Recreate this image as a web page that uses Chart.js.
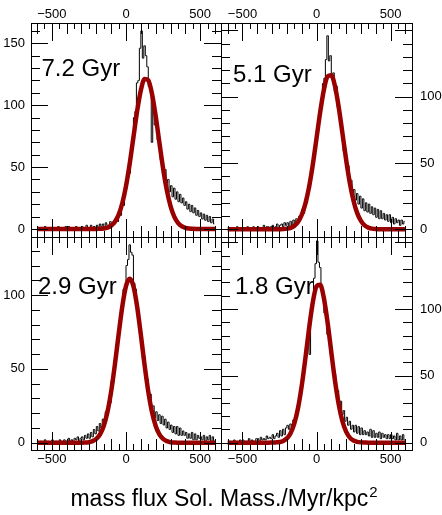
<!DOCTYPE html>
<html>
<head>
<meta charset="utf-8">
<script src="https://cdn.jsdelivr.net/npm/chart.js@4.4.1/dist/chart.umd.min.js"></script>
<style>
  html, body { margin: 0; padding: 0; background: #fff; }
  #wrap { position: relative; width: 442px; height: 515px; }
  #wrap canvas { position: absolute; left: 0; top: 0; }
</style>
</head>
<body>
<div id="wrap">
  <canvas id="p72" width="442" height="515"></canvas>
  <canvas id="p51" width="442" height="515"></canvas>
  <canvas id="p29" width="442" height="515"></canvas>
  <canvas id="p18" width="442" height="515"></canvas>
</div>
<script>
Chart.defaults.font.family = "'Liberation Sans', Arial, sans-serif";
Chart.defaults.color = '#000';

/* ── data ─────────────────────────────────────── */
const BIN_LO = -600, BIN_W = 10;   // 120 bins, -600 .. 600
const X_LABELS = [-500, 0, 500];
const Y_LABELS_TL = [0, 50, 100, 150];
const Y_LABELS = [0, 50, 100];
const XLABEL = 'mass flux Sol. Mass./Myr/kpc';
const XLABEL_SUP = '2';

const HIST_72 = [
  0,0,1,0,0,2,0,0,1,0,   0,1,0,0,2,0,1,0,0,2,
  0,2,1,0,1,0,2,1,0,1,   2,0,1,3,1,0,3,1,2,1,
  3,1,4,2,4,1,5,3,2,6,   2,5,4,9,6,13,11,20,19,31,
  33,47,45,66,68,90,95,118,120,146,   160,138,148,140,131,115,117,70,101,84,
  88,72,69,56,55,44,48,37,40,30,   35,26,33,24,30,22,28,21,25,19,
  22,16,20,14,19,13,17,11,15,10,   13,8,12,7,11,6,10,5,8,4,
];
const HIST_51 = [
  0,0,0,1,0,0,2,0,0,0,   1,0,0,2,0,1,0,2,1,0,
  2,0,1,1,3,0,2,2,1,2,   3,1,2,4,1,3,4,2,5,3,
  5,2,6,3,7,4,8,7,10,10,   15,12,22,20,33,31,45,44,60,60,
  74,79,93,96,110,114,128,146,127,131,   116,118,104,108,92,90,78,74,59,61,
  46,48,35,37,26,30,22,27,19,25,   16,23,14,20,13,19,12,17,11,16,
  9,15,8,14,8,12,7,11,6,11,   5,9,4,8,5,7,3,7,4,6,
];
const HIST_29 = [
  0,0,1,0,0,2,0,1,0,0,   2,0,1,1,0,2,1,0,2,1,
  1,3,1,2,0,3,2,4,1,3,   4,2,5,3,6,3,7,4,9,6,
  11,8,13,10,16,13,21,19,28,27,   42,41,55,59,72,74,88,91,104,105,
  120,124,134,129,127,108,104,91,88,74,   74,57,58,43,43,30,33,23,25,17,
  21,15,19,13,18,12,16,10,14,9,   12,7,11,6,11,5,10,5,8,5,
  7,3,6,3,7,2,6,2,5,3,   4,2,5,1,4,2,5,1,4,1,
];
const HIST_18 = [
  0,1,0,0,2,0,1,0,2,1,   2,0,1,1,3,0,2,1,1,3,
  3,1,4,2,3,2,5,3,4,3,   6,3,5,7,4,9,5,10,6,11,
  13,10,14,12,17,16,23,25,33,36,   49,51,66,68,82,66,99,106,123,134,
  151,135,131,114,111,97,95,81,81,67,   65,52,51,38,39,28,31,21,24,16,
  19,13,16,10,13,8,13,7,12,6,   11,6,9,6,8,5,10,4,9,4,
  7,4,8,3,7,4,6,3,6,3,   6,3,5,2,7,2,5,2,6,2,
];

// gaussian fits, sampled every 25
const FIT_X = [
  -600,-575,-550,-525,-500,-475,-450,-425,-400,-375,-350,-325,-300,-275,-250,-225,
  -200,-175,-150,-125,-100,-75,-50,-25,0,25,50,75,100,125,150,175,
  200,225,250,275,300,325,350,375,400,425,450,475,500,525,550,575,600,
];
const FIT_72 = [
  0,0,0,0,0,0,0,0,0,0,0,0,0,0,0,0,0,
  0.2,0.4,1.1,2.7,5.8,11.4,20.8,34.6,52.8,74,95.1,112.1,121.2,120.1,109.2,91.1,
  69.7,48.8,31.4,18.5,10,5,2.3,0.9,0.3,0.1,
  0,0,0,0,0,0,
];
const FIT_51 = [
  0,0,0,0,0,0,0,0,0,0,0,0,0,0,
  0.1,0.2,0.5,1.1,2.6,5.5,10.8,19.4,32,48.8,68.5,88.5,105.3,115.3,116.2,107.9,
  92.2,72.6,52.6,35.1,21.6,12.2,6.4,3,1.3,0.5,0.2,0.1,
  0,0,0,0,0,0,0,
];
const FIT_29 = [
  0,0,0,0,0,0,0,0,0,0,0,0,
  0,0.1,0.4,1.1,2.6,5.7,11.4,20.8,34.7,52.8,73.1,92.2,106,111,106,92.2,
  73.1,52.8,34.7,20.8,11.4,5.7,2.6,1.1,0.4,0.1,
  0,0,0,0,0,0,0,0,0,0,0,
];
const FIT_18 = [
  0,0,0,0,0,0,0,0,0,0,0,0,
  0.1,0.2,0.5,1.3,3.2,7.1,14.2,25.7,42.4,63.2,85.6,105,116.9,118.1,108.1,89.8,
  67.7,46.2,28.7,16.1,8.2,3.8,1.6,0.6,0.2,0.1,
  0,0,0,0,0,0,0,0,0,0,0,
];

const BIN_CENTERS = HIST_72.map((_, i) => BIN_LO + BIN_W * (i + 0.5));
const FONT = "'Liberation Sans', Arial, sans-serif";

/* ── frame, inward ticks and panel label ───────── */
const framePlugin = {
  id: 'rootFrame',
  afterDatasetsDraw(chart, args, opts) {
    const { ctx, chartArea: a, scales: { x, y } } = chart;
    ctx.save();
    ctx.strokeStyle = '#000';
    ctx.lineWidth = 1;
    ctx.beginPath();
    for (let v = Math.ceil(x.min / 50) * 50; v <= x.max; v += 50) {
      const px = Math.round(x.getPixelForValue(v)) + 0.5;
      const len = v % 500 === 0 ? 18 : (v % 100 === 0 ? 11 : 6);
      ctx.moveTo(px, a.top); ctx.lineTo(px, a.top + len);
      ctx.moveTo(px, a.bottom); ctx.lineTo(px, a.bottom - len);
    }
    for (let v = Math.ceil(y.min / 10) * 10; v <= y.max; v += 10) {
      const py = Math.round(y.getPixelForValue(v)) + 0.5;
      const len = v % 50 === 0 ? 17 : 9;
      ctx.moveTo(a.left, py); ctx.lineTo(a.left + len, py);
      ctx.moveTo(a.right, py); ctx.lineTo(a.right - len, py);
    }
    ctx.stroke();
    ctx.strokeRect(a.left + 0.5, a.top + 0.5, a.right - a.left, a.bottom - a.top);
    ctx.fillStyle = '#000';
    ctx.textBaseline = 'alphabetic';
    ctx.font = '24px ' + FONT;
    ctx.fillText(opts.text, a.left + opts.dx, a.top + opts.dy);
    if (opts.xtitle) {
      // shared x title with a raised "2", centred under the whole figure
      ctx.font = '23px ' + FONT;
      const w1 = ctx.measureText(opts.xtitle).width;
      ctx.font = '15px ' + FONT;
      const w2 = ctx.measureText(opts.sup).width;
      const x0 = opts.tx - (w1 + w2 + 1) / 2;
      ctx.font = '23px ' + FONT;
      ctx.fillText(opts.xtitle, x0, opts.ty);
      ctx.font = '15px ' + FONT;
      ctx.fillText(opts.sup, x0 + w1 + 1, opts.ty - 9);
    }
    ctx.restore();
  },
};

const fmt = v => (v < 0 ? '\u2212' + Math.abs(v) : String(v));

function panel(id, hist, fit, cfg) {
  return new Chart(document.getElementById(id), {
    type: 'line',
    data: {
      datasets: [
        {
          data: FIT_X.map((x, i) => ({ x, y: fit[i] })),
          borderColor: '#990000', borderWidth: 4.5, pointRadius: 0,
          cubicInterpolationMode: 'monotone', order: 0,
        },
        {
          data: BIN_CENTERS.map((x, i) => ({ x, y: hist[i] })),
          borderColor: '#000', borderWidth: 1, pointRadius: 0,
          stepped: 'middle', order: 1,
        },
      ],
    },
    options: {
      responsive: false, animation: false, devicePixelRatio: 1, events: [],
      layout: { padding: cfg.pad },
      plugins: {
        legend: { display: false },
        tooltip: { enabled: false },
        rootFrame: cfg.label,
      },
      scales: {
        x: {
          type: 'linear', min: cfg.xr[0], max: cfg.xr[1], position: cfg.xpos,
          grid: { display: false, drawTicks: false }, border: { display: false },
          ticks: { font: { size: 13 }, padding: cfg.xpos === 'top' ? 1 : 2, maxRotation: 0, autoSkip: false, callback: fmt },
          afterBuildTicks: s => { s.ticks = X_LABELS.map(v => ({ value: v })); },
          afterFit: s => { s.height = cfg.xh; },
        },
        y: {
          type: 'linear', min: cfg.yr[0], max: cfg.yr[1], position: cfg.ypos,
          grid: { display: false, drawTicks: false }, border: { display: false },
          ticks: { font: { size: 13 }, padding: cfg.ypos === 'left' ? 6 : 8, autoSkip: false, callback: fmt },
          afterBuildTicks: s => { s.ticks = cfg.ylabels.map(v => ({ value: v })); },
          afterFit: s => { s.width = cfg.yw; },
        },
      },
    },
    plugins: [framePlugin],
  });
}

/* ── 1. 7.2 Gyr, top left ─────────────────────── */
panel('p72', HIST_72, FIT_72, {
  pad: { left: 0, top: 0, right: 221, bottom: 278 },
  xr: [-640, 640], yr: [-6.5, 166.4], xpos: 'top', ypos: 'left', xh: 23, yw: 31,
  ylabels: Y_LABELS_TL, label: { text: '7.2 Gyr', dx: 10.5, dy: 53 },
});

/* ── 2. 5.1 Gyr, top right ────────────────────── */
panel('p51', HIST_51, FIT_51, {
  pad: { left: 221, top: 0, right: 0, bottom: 278 },
  xr: [-645, 645], yr: [-5.8, 155.6], xpos: 'top', ypos: 'right', xh: 23, yw: 30,
  ylabels: Y_LABELS, label: { text: '5.1 Gyr', dx: 12, dy: 58.5 },
});

/* ── 3. 2.9 Gyr, bottom left ──────────────────── */
panel('p29', HIST_29, FIT_29, {
  pad: { left: 0, top: 237, right: 221, bottom: 47 },
  xr: [-640, 640], yr: [-4.9, 139.3], xpos: 'bottom', ypos: 'left', xh: 18, yw: 31,
  ylabels: Y_LABELS, label: { text: '2.9 Gyr', dx: 7, dy: 57.3 },
});

/* ── 4. 1.8 Gyr, bottom right + x title ───────── */
panel('p18', HIST_18, FIT_18, {
  pad: { left: 221, top: 237, right: 0, bottom: 47 },
  xr: [-645, 645], yr: [-5.5, 153.9], xpos: 'bottom', ypos: 'right', xh: 18, yw: 30,
  ylabels: Y_LABELS,
  label: { text: '1.8 Gyr', dx: 14, dy: 57.3, xtitle: XLABEL, sup: XLABEL_SUP, tx: 224, ty: 506 },
});
</script>
</body>
</html>
